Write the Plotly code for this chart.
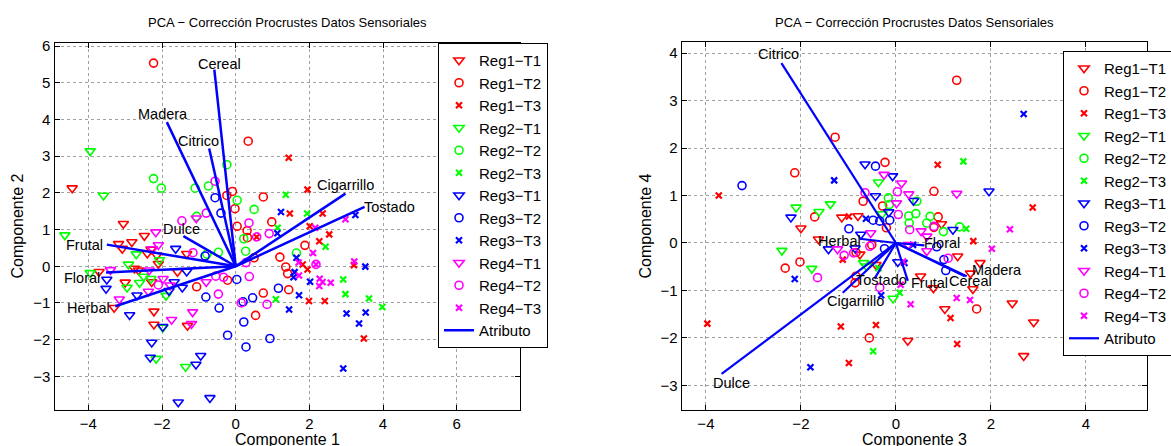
import plotly.graph_objects as go

# ---------------- data: left panel (Componente 1 vs Componente 2) ----------------
groups = ["Reg1−T1", "Reg1−T2", "Reg1−T3", "Reg2−T1", "Reg2−T2", "Reg2−T3",
          "Reg3−T1", "Reg3−T2", "Reg3−T3", "Reg4−T1", "Reg4−T2", "Reg4−T3"]

L_reg1_t1 = [(-4.44, 2.13), (-3.05, 1.16), (-2.48, 0.83), (-2.82, 0.66), (-3.18, 0.61), (-3.08, 0.48),
             (-2.40, 0.35), (-2.30, 0.46), (-2.14, 0.30), (-1.33, 0.34), (-2.10, 0.07), (-2.75, -0.06),
             (-2.64, -0.11), (-3.71, -0.15), (-1.58, -0.15), (-3.00, -0.44), (-2.28, -0.43),
             (-3.30, -1.13), (-2.22, -1.23), (-2.22, -1.59), (-1.31, -1.62)]
L_reg1_t2 = [(-2.23, 5.54), (0.34, 3.41), (-0.09, 2.04), (-0.24, 1.93), (-0.02, 1.57), (0.75, 1.89),
             (0.98, 1.21), (0.04, 1.09), (0.31, 0.97), (0.32, 0.78), (1.88, 0.57), (1.20, 0.25),
             (1.36, -0.02), (1.41, -0.20), (0.50, 0.23), (-0.22, -0.38), (-1.06, -0.56),
             (1.44, -0.64), (0.75, -0.73), (0.54, -1.34)]
L_reg1_t3 = [(1.44, 2.96), (1.95, 2.09), (1.47, 1.44), (2.36, 1.44), (2.01, 1.09), (2.54, 0.87),
             (2.27, 0.68), (1.82, 0.05), (1.95, -0.09), (3.21, 0.03), (1.99, -0.95), (2.42, -0.95),
             (3.48, -1.97), (0.57, 0.80)]
L_reg2_t1 = [(-3.95, 3.14), (-3.59, 1.93), (-4.64, 0.85), (-2.70, 0.33), (-2.07, 0.17), (-2.91, 0.05),
             (-3.95, -0.18), (-2.50, -0.28), (-2.30, -0.34), (-2.61, -0.45), (-2.95, -0.58),
             (-1.89, -0.80), (-1.98, -1.67), (-2.16, -2.52), (-1.36, -2.74)]
L_reg2_t2 = [(-2.23, 2.39), (-2.02, 2.13), (-1.10, 2.13), (-0.74, 2.19), (-0.24, 2.77), (0.04, 1.80),
             (0.50, 1.55), (0.22, 0.75), (0.27, 0.41), (-0.47, 0.38), (-0.78, 0.33), (-1.06, 1.36),
             (1.65, 0.36)]
L_reg2_t3 = [(1.36, 1.95), (1.14, 1.05), (1.94, 1.44), (2.44, 0.53), (2.92, -0.36), (2.98, -0.76),
             (3.62, -0.88), (3.98, -1.11), (1.09, -0.90)]
L_reg3_t1 = [(-1.63, 0.48), (-1.33, -0.14), (-3.50, -0.36), (-3.52, -0.61), (-1.67, -0.43),
             (-1.45, -0.58), (-1.81, -0.67), (-2.68, -0.79), (-2.88, -1.33), (-1.98, -1.65),
             (-2.28, -2.08), (-2.32, -2.49), (-0.95, -2.44), (-1.08, -2.68), (-1.56, -3.71),
             (-0.70, -3.59)]
L_reg3_t2 = [(-0.56, 1.87), (-0.40, 1.45), (-0.83, 0.28), (0.03, -0.36), (-0.81, -0.84), (-0.45, -1.14),
             (0.20, -0.97), (0.46, -0.86), (1.16, -0.60), (0.22, -1.52), (-0.22, -1.88), (0.93, -1.97),
             (0.28, -2.20)]
L_reg3_t3 = [(1.23, 1.48), (1.13, 0.90), (3.25, 1.40), (1.65, 0.23), (1.60, -0.16), (1.57, -0.30),
             (2.02, -0.42), (3.52, -0.01), (1.72, -0.79), (1.45, -1.18), (3.01, -1.29), (3.53, -1.26),
             (3.35, -1.56), (2.92, -2.79)]
L_reg4_t1 = [(-1.07, 1.31), (-2.17, 0.93), (-2.10, 0.58), (-2.26, 0.47), (-2.35, -0.11), (-3.40, -0.10),
             (-1.97, -0.34), (-1.78, -0.52), (-0.80, -0.43), (-2.37, -0.69), (-3.16, -0.90),
             (-1.74, -1.46), (-1.17, -1.25), (-1.20, -1.57)]
L_reg4_t2 = [(-0.56, 2.32), (-1.46, 1.24), (-0.80, 1.45), (0.36, 1.18), (0.91, 0.89), (0.57, 0.80),
             (-1.16, 0.37), (0.28, 0.10), (0.37, -0.28), (-0.33, -0.30), (-0.54, -0.27), (-2.10, -0.51),
             (-0.47, -0.76), (0.15, -1.00), (0.85, -1.04), (2.18, 0.05)]
L_reg4_t3 = [(2.16, 1.05), (2.98, 1.28), (2.10, 0.36), (1.71, 0.10), (1.72, -0.25), (2.28, -0.34),
             (2.36, -0.43), (2.27, -0.54), (2.58, -0.45), (3.22, 0.13), (2.18, 0.05)]

left_points = [L_reg1_t1, L_reg1_t2, L_reg1_t3, L_reg2_t1, L_reg2_t2, L_reg2_t3,
               L_reg3_t1, L_reg3_t2, L_reg3_t3, L_reg4_t1, L_reg4_t2, L_reg4_t3]

left_attr_names = ["Cereal", "Madera", "Citrico", "Dulce", "Frutal", "Floral", "Herbal", "Cigarrillo", "Tostado"]
left_attr_x = [-0.58, -1.87, -0.72, -1.42, -3.50, -3.52, -3.27, 2.98, 3.50]
left_attr_y = [5.36, 3.93, 3.21, 0.82, 0.59, -0.17, -1.09, 1.98, 1.62]

# ---------------- data: right panel (Componente 3 vs Componente 4) ----------------
R_reg1_t1 = [(-2.00, 0.31), (-1.63, 0.08), (-1.14, 0.54), (-0.80, 0.57), (-0.76, -0.24), (-0.42, -0.46),
             (0.96, 0.40), (1.30, -0.28), (1.77, -0.42), (1.57, -0.64), (1.62, -0.97), (0.79, -0.95),
             (0.52, -0.70), (2.45, -1.27), (2.90, -1.67), (2.69, -2.38), (1.03, -1.39), (0.25, -2.06)]
R_reg1_t2 = [(1.28, 3.43), (-1.28, 2.23), (-2.13, 1.48), (-1.71, 0.55), (-0.23, 1.70), (-0.69, 0.88),
             (-0.28, 0.78), (-0.20, 0.32), (0.80, 1.09), (0.89, 0.55), (0.80, 0.33), (-2.33, -0.53),
             (-2.02, -0.40), (-0.86, -0.84), (-0.84, -0.70), (-0.51, -0.04), (-0.84, -0.20),
             (1.70, -1.39), (-0.56, -2.00)]
R_reg1_t3 = [(-3.97, -1.70), (-3.73, 1.00), (-1.16, -1.76), (-0.42, -1.73), (-0.99, -2.53), (-0.99, 0.56),
             (-1.12, -0.35), (0.88, 1.65), (2.88, 0.75), (1.63, 0.04), (1.15, -1.58), (1.29, -2.13)]
R_reg2_t1 = [(-2.10, 0.75), (-1.62, 0.66), (-1.38, 0.82), (-2.40, -0.16), (-1.77, -0.54), (-0.37, 1.28),
             (-0.29, 0.61), (-0.62, -0.49), (-0.68, -0.42), (-0.06, -1.17)]
R_reg2_t2 = [(-0.16, 0.95), (-0.14, 0.81), (0.44, 0.88), (0.27, 0.57), (0.42, 0.62), (0.28, 0.42),
             (0.72, 0.56), (0.65, 0.42), (1.00, 0.24), (1.34, 0.34)]
R_reg2_t3 = [(1.42, 1.72), (1.48, 0.30), (-0.37, -0.53), (-0.48, -2.28), (0.08, -1.05)]
R_reg3_t1 = [(-2.21, 0.54), (-0.65, 1.66), (-0.07, 1.41), (-0.43, 0.99), (-0.15, 0.65), (0.37, 0.89),
             (1.96, 1.09), (1.20, 0.28), (-1.42, -0.13), (-0.86, -0.11), (-0.74, 0.18), (0.04, -0.40)]
R_reg3_t2 = [(-3.24, 1.21), (-0.43, 1.62), (-0.99, 0.30), (-0.48, 0.48), (-0.34, 0.46), (-0.13, 0.48),
             (0.86, -0.08), (1.05, -0.58), (1.01, -0.35), (-0.24, -0.12)]
R_reg3_t3 = [(2.69, 2.72), (-1.30, 1.32), (-0.63, 0.51), (-2.13, -0.76), (-1.80, -2.62), (-0.31, -1.10),
             (0.36, -0.04), (0.18, -0.42)]
R_reg4_t1 = [(-0.25, 1.44), (0.12, 1.26), (0.01, 0.84), (0.27, 1.03), (1.28, 1.04), (0.53, 0.25),
             (0.65, 0.14), (0.65, -0.17), (-1.23, -0.13), (-0.53, 0.21), (0.26, -0.04)]
R_reg4_t2 = [(-0.65, 1.06), (0.03, 1.08), (0.05, 0.60), (0.29, 0.28), (0.80, 0.35), (1.10, -0.32),
             (-1.65, -0.73), (-1.09, -0.26), (-0.89, -0.21), (-0.55, -0.07), (-0.34, -0.94)]
R_reg4_t3 = [(2.40, 0.29), (2.02, -0.12), (1.28, -1.16), (1.56, -1.20), (0.31, -1.29), (0.10, -0.88),
             (0.15, -0.39)]

right_points = [R_reg1_t1, R_reg1_t2, R_reg1_t3, R_reg2_t1, R_reg2_t2, R_reg2_t3,
                R_reg3_t1, R_reg3_t2, R_reg3_t3, R_reg4_t1, R_reg4_t2, R_reg4_t3]

right_attr_names = ["Citrico", "Dulce", "Cigarrillo", "Tostado", "Frutal", "Cereal", "Madera", "Floral", "Herbal"]
right_attr_x = [-2.41, -3.67, -1.12, -0.45, 0.25, 1.45, 1.49, 0.60, -0.76]
right_attr_y = [3.79, -2.76, -1.05, -0.75, -0.80, -0.70, -0.70, -0.05, 0.09]

left_xticks = [-4, -2, 0, 2, 4, 6]
left_yticks = [-3, -2, -1, 0, 1, 2, 3, 4, 5, 6]
right_xticks = [-4, -2, 0, 2, 4]
right_yticks = [-3, -2, -1, 0, 1, 2, 3, 4]

title_text = "PCA − Corrección Procrustes Datos Sensoriales"

# ---------------- styles ----------------
W, H = 1171, 446
FONT = "Liberation Sans, Arial, Helvetica, sans-serif"
colors = ["#ff0000"] * 3 + ["#00ff00"] * 3 + ["#0000ff"] * 3 + ["#ff00ff"] * 3
symbols = ["triangle-down-open", "circle-open", "x-thin"] * 4
sizes = [9, 8, 6] * 4
lwidths = [1.6, 1.6, 2.2] * 4

# label offsets in pixels (dx, dy) relative to attribute end points
left_label_offsets = {"Cereal": (5, 6), "Madera": (-4, 8), "Citrico": (-11, 8), "Dulce": (-2, 7),
                      "Frutal": (-22, 0), "Floral": (-24, -6), "Herbal": (-27, -2),
                      "Cigarrillo": (0, 9), "Tostado": (25, 0)}
right_label_offsets = {"Citrico": (-3, 9), "Dulce": (10, -9), "Cigarrillo": (13, -8), "Tostado": (7, -1),
                       "Frutal": (22, -2), "Cereal": (6, -5), "Madera": (30, 6), "Floral": (18, 2),
                       "Herbal": (-20, -2)}

fig = go.Figure()

def add_panel(points, attr_names, attr_x, attr_y, xa, ya, legend_name, offsets, lw):
    for name, pts, c, s, sz, w in zip(groups, points, colors, symbols, sizes, lwidths):
        fig.add_trace(go.Scatter(
            x=[p[0] for p in pts], y=[p[1] for p in pts], mode="markers", name=name,
            marker=dict(symbol=s, size=sz, color=c, line=dict(color=c, width=w)),
            xaxis=xa, yaxis=ya, legend=legend_name, cliponaxis=True))
    lx, ly = [], []
    for ax_, ay_ in zip(attr_x, attr_y):
        lx += [0, ax_, None]
        ly += [0, ay_, None]
    fig.add_trace(go.Scatter(x=lx, y=ly, mode="lines", name="Atributo",
                             line=dict(color="#0000ff", width=lw),
                             xaxis=xa, yaxis=ya, legend=legend_name))
    for n, ax_, ay_ in zip(attr_names, attr_x, attr_y):
        dx, dy = offsets[n]
        fig.add_annotation(x=ax_, y=ay_, xref=xa, yref=ya, text=n, showarrow=False,
                           xanchor="center", yanchor="middle", xshift=dx, yshift=dy,
                           font=dict(family=FONT, size=14.5, color="black"))

add_panel(left_points, left_attr_names, left_attr_x, left_attr_y, "x", "y", "legend", left_label_offsets, 2.5)
add_panel(right_points, right_attr_names, right_attr_x, right_attr_y, "x2", "y2", "legend2", right_label_offsets, 2.2)

def px_x(p):
    return p / W

def px_y(p):
    return 1 - p / H

axis_common = dict(showline=True, linecolor="black", linewidth=1.3, mirror="allticks",
                   ticks="inside", ticklen=5, tickcolor="black", showgrid=True,
                   gridcolor="#a0a0a0", griddash="dot", gridwidth=1, zeroline=False,
                   tickfont=dict(family=FONT, size=15, color="black"))

fig.update_layout(
    width=W, height=H, margin=dict(l=0, r=0, t=0, b=0, autoexpand=False),
    paper_bgcolor="white", plot_bgcolor="white",
    font=dict(family=FONT, color="black"),
    xaxis=dict(domain=[px_x(54.5), px_x(520)], range=[-4.92, 7.72], tickvals=left_xticks,
               anchor="y", **axis_common),
    yaxis=dict(domain=[px_y(410), px_y(43.3)], range=[-3.92, 6.08], tickvals=left_yticks,
               anchor="x", **axis_common),
    xaxis2=dict(domain=[px_x(681.7), px_x(1146.7)], range=[-4.51, 5.28], tickvals=right_xticks,
                anchor="y2", **axis_common),
    yaxis2=dict(domain=[px_y(410), px_y(42.3)], range=[-3.52, 4.23], tickvals=right_yticks,
                anchor="x2", **axis_common),
    legend=dict(x=px_x(438), y=px_y(43), xanchor="left", yanchor="top",
                bgcolor="white", bordercolor="black", borderwidth=1,
                font=dict(family=FONT, size=15, color="black"), tracegroupgap=0),
    legend2=dict(x=px_x(1063), y=px_y(51), xanchor="left", yanchor="top",
                 bgcolor="white", bordercolor="black", borderwidth=1,
                 font=dict(family=FONT, size=15, color="black"), tracegroupgap=0),
    showlegend=True,
)

for cx in (287, 914):
    fig.add_annotation(x=px_x(cx), y=px_y(22), xref="paper", yref="paper", text=title_text,
                       showarrow=False, xanchor="center", yanchor="middle",
                       font=dict(family=FONT, size=13, color="black"))

# axis titles
label_font = dict(family=FONT, size=16, color="black")
for cx, txt in ((287, "Componente 1"), (914, "Componente 3")):
    fig.add_annotation(x=px_x(cx), y=px_y(439.5), xref="paper", yref="paper", text=txt,
                       showarrow=False, xanchor="center", yanchor="middle", font=label_font)
for cx, txt in ((17, "Componente 2"), (645, "Componente 4")):
    fig.add_annotation(x=px_x(cx), y=px_y(226.5), xref="paper", yref="paper", text=txt,
                       showarrow=False, xanchor="center", yanchor="middle", textangle=-90,
                       font=label_font)

fig.write_html("out.html")
